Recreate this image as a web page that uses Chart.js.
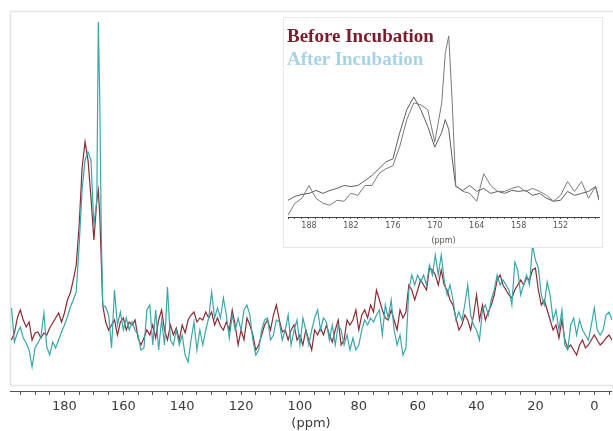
<!DOCTYPE html>
<html>
<head>
<meta charset="utf-8">
<script src="https://cdn.jsdelivr.net/npm/chart.js@4.4.0/dist/chart.umd.min.js"></script>
<style>
  html, body { margin: 0; padding: 0; background: #fff; }
  #wrap { position: relative; width: 613px; height: 431px; overflow: hidden; }
  #main { position: absolute; left: 0; top: 0; }
  #insetBox { position: absolute; left: 283px; top: 17px; width: 320px; height: 231px;
              box-sizing: border-box; border: 1px solid #e8e8e8; background: #fff; }
  #inset { position: absolute; left: -1px; top: -1px; }
  .lg { position: absolute; left: 3px; font-family: "Liberation Serif", "DejaVu Serif", serif;
        font-size: 19px; font-weight: bold; line-height: 19px; white-space: nowrap; }
</style>
</head>
<body>
<div id="wrap">
  <canvas id="main" width="613" height="431"></canvas>
  <div id="insetBox">
    <canvas id="inset" width="320" height="231"></canvas>
    <div class="lg" style="top:8px;color:#7b1b2b;">Before Incubation</div>
    <div class="lg" style="top:31px;color:#a9d2e4;">After Incubation</div>
  </div>
</div>
<script>
// main spectrum, chemical shift in ppm (axis runs high -> low)
const ppm = [
  198,197,196,195,194,193,192,191,190,189,
  188,187,186,185,184,183,182,181,180,179,
  178,177,176,175,174,173,172,171,170,169,
  168.5,168,167.5,167,166,165,164,163,162,161,
  160,159,158,157,156,155,154,153,152,151,
  150,149,148,147,146,145,144,143,142,141,
  140,139,138,137,136,135,134,133,132,131,
  130,129,128,127,126,125,124,123,122,121,
  120,119,118,117,116,115,114,113,112,111,
  110,109,108,107,106,105,104,103,102,101,
  100,99,98,97,96,95,94,93,92,91,
  90,89,88,87,86,85,84,83,82,81,
  80,79,78,77,76,75,74,73,72,71,
  70,69,68,67,66,65,64,63,62,61,
  60,59,58,57,56,55,54,53,52,51,
  50,49,48,47,46,45,44,43,42,41,
  40,39,38,37,36,35,34,33,32,31,
  30,29,28,27,26,25,24,23,22,21,
  20,19,18,17,16,15,14,13,12,11,
  10,9,8,7,6,5,4,3,2,1,
  0,-1,-2,-3,-4,-5,-6
];

const beforeVals = [
  51,58,73,81,71,64,69,51,58,59,
  53,58,56,63,68,73,78,69,78,91,
  98,111,126,166,223,249,231,194,151,191,
  201,176,131,86,69,61,66,71,56,69,
  73,61,69,66,71,53,46,53,61,56,
  66,53,71,81,61,51,66,56,63,51,
  66,58,71,76,79,69,73,71,79,73,
  79,66,73,65,61,69,61,81,66,46,
  61,51,73,66,56,41,46,56,66,71,
  61,76,86,71,59,61,51,61,66,51,
  56,46,61,51,41,61,56,63,56,66,
  56,49,61,71,46,51,71,66,71,81,
  61,76,81,73,86,79,101,91,81,73,
  71,81,71,61,81,73,79,106,101,91,
  101,111,106,101,123,121,116,106,121,106,
  101,91,86,73,61,66,76,71,61,76,
  96,71,86,71,79,86,96,111,116,106,
  101,96,93,101,106,111,106,113,111,121,
  123,101,86,91,81,71,61,66,53,71,
  51,43,46,41,36,46,51,43,46,51,
  56,51,46,49,53,56,51
];

const afterVals = [
  83,49,58,64,53,48,41,24,43,48,
  54,78,44,36,49,43,51,59,66,74,
  84,91,99,146,201,231,239,231,166,191,
  369,291,161,86,84,76,43,101,66,79,
  61,73,61,69,61,56,41,43,81,86,
  46,81,41,71,46,104,51,46,61,46,
  56,36,29,51,69,41,61,46,61,73,
  99,73,83,73,93,76,53,76,61,73,
  61,81,86,76,51,36,41,61,71,73,
  51,56,71,69,51,61,76,46,61,71,
  46,73,61,46,61,73,81,61,73,69,
  51,66,46,66,61,46,56,41,53,41,
  46,61,71,66,73,69,76,81,56,86,
  73,91,61,46,56,36,43,101,116,106,
  116,109,116,106,126,116,136,116,136,111,
  96,106,91,71,79,71,86,106,76,66,
  61,51,81,86,76,91,101,116,106,111,
  106,101,86,129,121,96,106,116,106,146,
  131,123,96,86,109,96,71,81,61,81,
  46,41,66,73,56,71,61,56,51,66,
  83,61,56,61,76,79,71
];

const mainTicks = [195,190,185,180,175,170,165,160,155,150,145,140,135,130,125,120,115,110,105,100,
  95,90,85,80,75,70,65,60,55,50,45,40,35,30,25,20,15,10,5,0,-5];
const mainTickLabels = [180,160,140,120,100,80,60,40,20,0];

// inset: carbonyl region zoom
const insetPpm = [
  191,190,189,188,187,186,185,184,183,182,
  181,180,179,178,177,176,175,174,173,172,
  171,170,169,168.5,168,167.5,167,166,165,164,
  163,162,161,160,159,158,157,156,155,154,
  153,152,151,150,149,148,147,146.5
];
const insetBefore = [
  15,19,21,22,25,22,25,27,30,29,
  30,35,40,47,54,57,84,107,120,107,
  90,69,84,97,87,57,29,25,30,24,
  27,22,24,22,25,24,25,20,22,17,
  14,15,24,20,22,24,29,15
];
const insetAfter = [
  0,12,17,30,17,12,10,15,14,22,
  20,30,30,42,47,50,70,97,114,112,
  107,74,114,164,182,114,30,24,22,14,
  42,30,24,24,27,29,24,27,24,20,
  14,20,34,24,34,17,29,17
];
const insetTicks = [191,190,189,188,187,186,185,184,183,182,181,180,179,178,177,176,175,174,173,172,171,170,
  169,168,167,166,165,164,163,162,161,160,159,158,157,156,155,154,153,152,151,150,149,148,147];
const insetTickLabels = [188,182,176,170,164,158,152];

function pts(xs, ys) { return xs.map((x, i) => ({ x: x, y: ys[i] })); }

// faint frame round the plot (runs off the right edge)
const framePlugin = {
  id: 'frame',
  beforeDatasetsDraw(chart) {
    const a = chart.chartArea, ctx = chart.ctx;
    ctx.save();
    ctx.strokeStyle = '#e4e4e4';
    ctx.lineWidth = 1.5;
    ctx.strokeRect(a.left + 0.5, a.top + 0.5, a.right - a.left + 30, a.bottom - a.top - 6);
    ctx.restore();
  }
};

new Chart(document.getElementById('main'), {
  type: 'line',
  data: {
    datasets: [
      { label: 'After Incubation', data: pts(ppm, afterVals), borderColor: '#3aa6aa',
        borderWidth: 1.2, pointRadius: 0, tension: 0 },
      { label: 'Before Incubation', data: pts(ppm, beforeVals), borderColor: '#8a2b33',
        borderWidth: 1.2, pointRadius: 0, tension: 0 }
    ]
  },
  plugins: [framePlugin],
  options: {
    responsive: false,
    animation: false,
    layout: { padding: { left: 10, top: 11, right: 0, bottom: 0 } },
    plugins: { legend: { display: false }, tooltip: { enabled: false } },
    scales: {
      x: {
        type: 'linear', reverse: true, min: -6, max: 198.5,
        afterBuildTicks: s => { s.ticks = mainTicks.map(v => ({ value: v })); },
        afterFit: s => { s.height = 40; },
        ticks: {
          autoSkip: false, maxRotation: 0, includeBounds: false, padding: 4,
          color: '#3a3a3a', font: { family: 'DejaVu Sans', size: 13 },
          callback: v => mainTickLabels.includes(v) ? String(v) : ''
        },
        grid: { drawOnChartArea: false, drawTicks: true, tickLength: 4, color: '#555' },
        border: { display: true, color: '#555', width: 1 },
        title: { display: true, text: '(ppm)', color: '#3a3a3a', padding: 0,
                 font: { family: 'DejaVu Sans', size: 13 } }
      },
      y: { display: false, min: 0, max: 380 }
    }
  }
});

new Chart(document.getElementById('inset'), {
  type: 'line',
  data: {
    datasets: [
      { label: 'After Incubation', data: pts(insetPpm, insetAfter), borderColor: '#7a7a7a',
        borderWidth: 1, pointRadius: 0, tension: 0 },
      { label: 'Before Incubation', data: pts(insetPpm, insetBefore), borderColor: '#5e5e5e',
        borderWidth: 1, pointRadius: 0, tension: 0 }
    ]
  },
  options: {
    responsive: false,
    animation: false,
    layout: { padding: { left: 5, top: 11, right: 4, bottom: 0 } },
    plugins: { legend: { display: false }, tooltip: { enabled: false } },
    scales: {
      x: {
        type: 'linear', reverse: true, min: 146.5, max: 191,
        afterBuildTicks: s => { s.ticks = insetTicks.map(v => ({ value: v })); },
        afterFit: s => { s.height = 31; },
        ticks: {
          autoSkip: false, maxRotation: 0, includeBounds: false, padding: 2,
          color: '#555', font: { family: 'DejaVu Sans', size: 8 },
          callback: v => insetTickLabels.includes(v) ? String(v) : ''
        },
        grid: { drawOnChartArea: false, drawTicks: true, tickLength: 2, color: '#555' },
        border: { display: true, color: '#444', width: 1 },
        title: { display: true, text: '(ppm)', color: '#555', padding: 2,
                 font: { family: 'DejaVu Sans', size: 8 } }
      },
      y: { display: false, min: -2, max: 190 }
    }
  }
});
</script>
</body>
</html>
